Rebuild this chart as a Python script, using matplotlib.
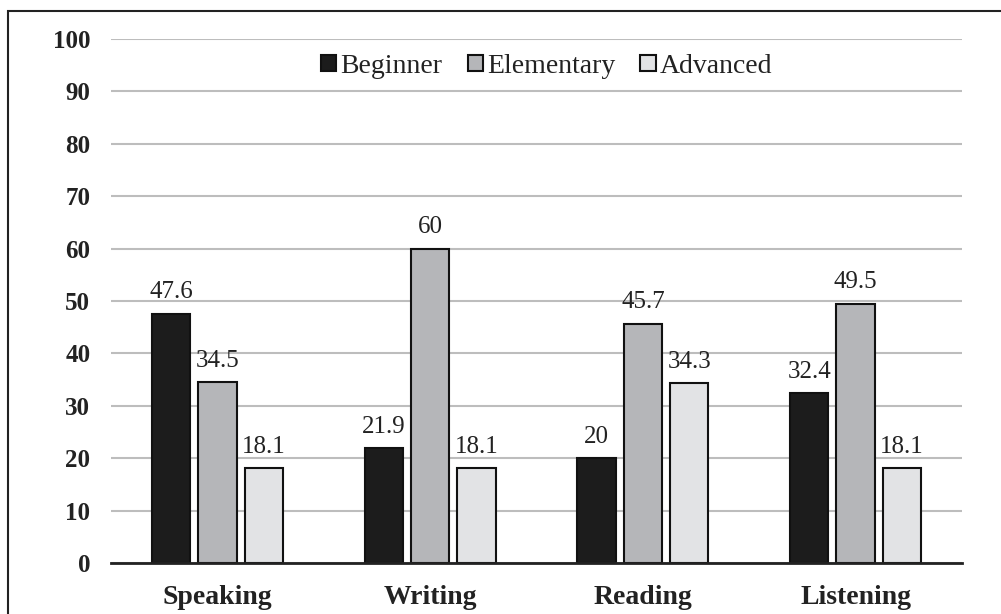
import numpy as np
import matplotlib.pyplot as plt
from matplotlib.patches import Rectangle

categories = ['Speaking', 'Writing', 'Reading', 'Listening']
beginner = [47.6, 21.9, 20, 32.4]
elementary = [34.5, 60, 45.7, 49.5]
advanced = [18.1, 18.1, 34.3, 18.1]
series_names = ['Beginner', 'Elementary', 'Advanced']
colors = ['#1c1c1c', '#b5b6b9', '#e2e3e5']

plt.rcParams['font.family'] = ['Liberation Serif', 'DejaVu Serif']

fig = plt.figure(figsize=(10.01, 6.14), dpi=100)
ax = fig.add_axes([0.111, 0.083, 0.850, 0.8535])

# border round the whole chart
fig.patches.append(Rectangle((0.008, -0.05), 1.05, 1.032, transform=fig.transFigure,
                             fill=False, edgecolor='#222222', linewidth=1.5))

x = np.arange(len(categories))
w = 0.18
step = 0.218
for i, (vals, name, c) in enumerate(zip([beginner, elementary, advanced], series_names, colors)):
    bars = ax.bar(x + (i - 1) * step, vals, w, color=c, edgecolor='#111111',
                  linewidth=1.5, label=name, zorder=3)
    for b, v in zip(bars, vals):
        ax.text(b.get_x() + b.get_width() / 2, v + 2.0, f'{v:g}', ha='center',
                va='bottom', fontsize=18, color='#222222')

ax.set_xlim(-0.5, len(categories) - 0.5)
ax.set_ylim(0, 100)
ax.set_yticks(range(0, 101, 10))
ax.yaxis.grid(True, color='#bdbdbd', linewidth=1.5, zorder=0)
ax.set_xticks(x)
ax.set_xticklabels(categories, fontsize=20, fontweight='bold', color='#222222')
for lbl in ax.get_yticklabels():
    lbl.set_fontsize(18)
    lbl.set_fontweight('bold')
    lbl.set_color('#222222')
ax.tick_params(axis='both', length=0)
ax.tick_params(axis='y', pad=15)
ax.tick_params(axis='x', pad=16)
for s in ['top', 'right', 'left']:
    ax.spines[s].set_visible(False)
ax.spines['bottom'].set_color('#222222')
ax.spines['bottom'].set_linewidth(2)
ax.spines['bottom'].set_zorder(4)

leg = ax.legend(loc='center', bbox_to_anchor=(0.512, 0.948), ncol=3, frameon=True,
                facecolor='white', edgecolor='none', framealpha=1, fontsize=20,
                handlelength=0.55, handleheight=0.55, handletextpad=0.15, columnspacing=0.9,
                borderpad=0.2)
for t in leg.get_texts():
    t.set_color('#222222')

fig.savefig('out.png', dpi=100)
